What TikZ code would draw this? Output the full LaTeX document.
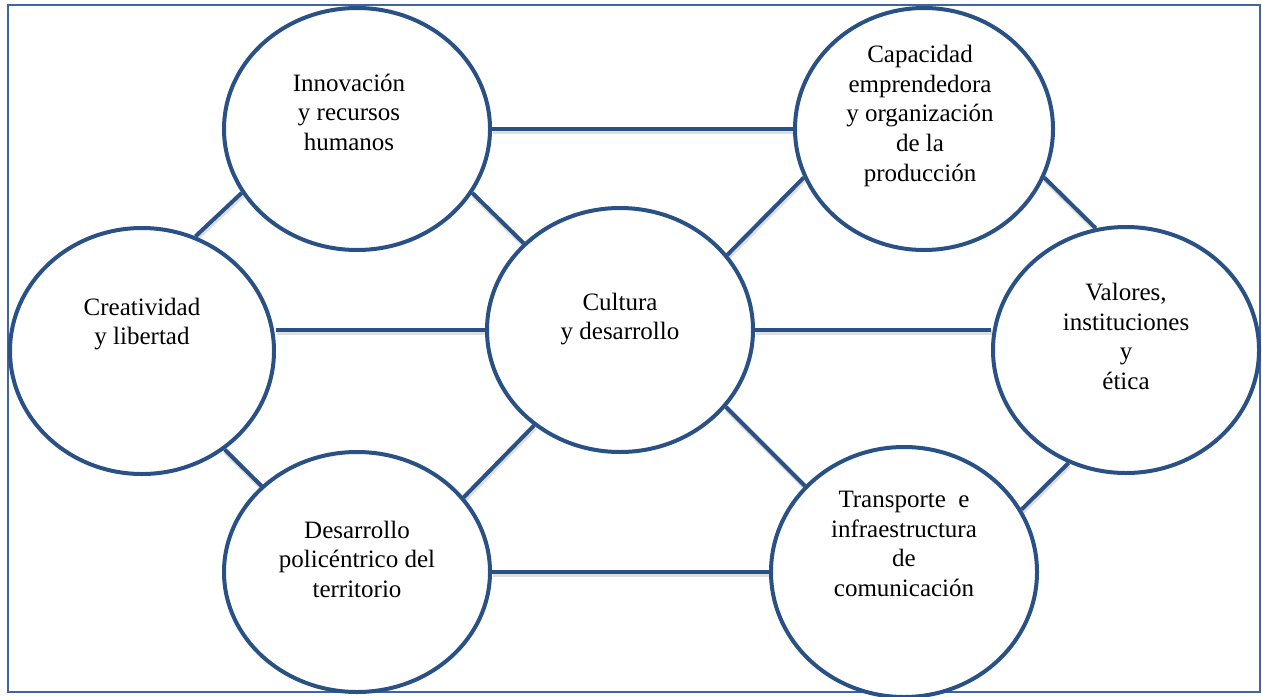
\documentclass[tikz,border=0pt]{standalone}
\usepackage{fontspec}
\setmainfont{Liberation Serif}
\usetikzlibrary{shapes.geometric}
\pgfdeclarelayer{background}
\pgfsetlayers{background,main}
\definecolor{ell}{HTML}{2A5185}
\definecolor{frm}{HTML}{3F64A0}
\newcommand\ntext[3]{\smash{\raisebox{#1}{\kern#2\begin{tabular}{@{}c@{}}#3\end{tabular}}}}
\begin{document}
\begin{tikzpicture}[x=0.5pt,y=-0.5pt,
  bub/.style={ellipse, draw=ell, line width=2pt, fill=white, inner sep=0pt,
    font=\fontsize{12.5}{14.8}\selectfont},
  conn/.style={draw=ell, line width=2pt,
    preaction={draw=black!13, line width=2.4pt, transform canvas={xshift=0.4pt,yshift=-1.2pt}}},
  frame/.style={draw=frm, line width=1pt}]
\useasboundingbox (0,0) rectangle (1262,696);
\node[bub, minimum width=133pt, minimum height=121pt] (I) at (357,129)
  {\ntext{4pt}{-8pt}{Innovación\\y recursos\\humanos}};
\node[bub, minimum width=129pt, minimum height=121pt] (C) at (924,129)
  {\ntext{3.5pt}{-4pt}{Capacidad\\emprendedora\\y organización\\de la\\producción}};
\node[bub, minimum width=132pt, minimum height=123pt] (Cr) at (142,351)
  {\ntext{10.5pt}{0pt}{Creatividad\\y libertad}};
\node[bub, minimum width=133pt, minimum height=122pt] (Cu) at (620,330)
  {\ntext{2.5pt}{0pt}{Cultura\\y desarrollo}};
\node[bub, minimum width=133pt, minimum height=123pt] (V) at (1126,350)
  {\ntext{2.5pt}{0pt}{Valores,\\instituciones\\y\\ética}};
\node[bub, minimum width=133pt, minimum height=120pt] (D) at (357,572)
  {\ntext{2pt}{0pt}{Desarrollo\\policéntrico del\\territorio}};
\node[bub, minimum width=133pt, minimum height=125pt] (T) at (904,572)
  {\ntext{10pt}{0pt}{Transporte~ e\\infraestructura\\de\\comunicación}};
\begin{pgfonlayer}{background}
\draw[frame] (8,5) rectangle (1260,692);
\draw[conn] (I.east) -- (I.east -| C.west);
\draw[conn] (Cu.west) -- (Cu.west -| Cr.east);
\draw[conn] (Cu.east) -- (Cu.east -| V.west);
\draw[conn] (D.east) -- (D.east -| T.west);
\draw[conn] (Cr.65) -- (I.209);
\draw[conn] (I.-29) -- (Cu.138);
\draw[conn] (Cu.35) -- (C.202);
\draw[conn] (C.-22) -- (V.104);
\draw[conn] (Cr.-50) -- (D.138);
\draw[conn] (D.35) -- (Cu.228);
\draw[conn] (Cu.-36) -- (T.139);
\draw[conn] (V.243) -- (T.28);
\end{pgfonlayer}
\end{tikzpicture}
\end{document}
